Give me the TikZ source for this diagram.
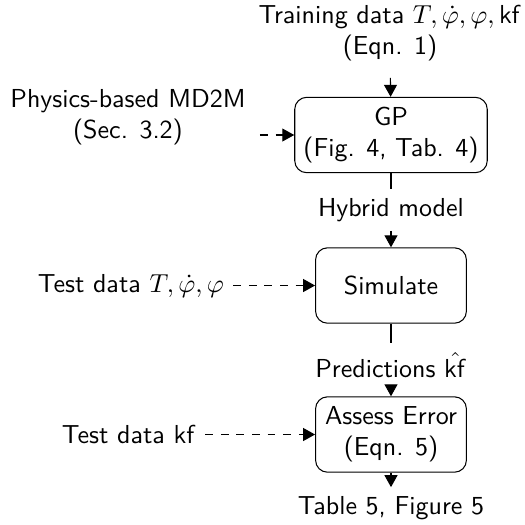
\documentclass[tikz,border=0pt]{standalone}
\usetikzlibrary{arrows.meta}
\begin{document}
\begin{tikzpicture}[x=0.3846pt,y=-0.3846pt, font=\sffamily,
  box/.style={draw, rounded corners=4.6pt, minimum width=58pt, minimum height=29pt, align=center, inner sep=3.33pt},
  lbl/.style={align=center, inner sep=3.33pt},
  arr/.style={-{Triangle[length=4.6pt,width=5pt]}},
  darr/.style={arr, dashed}]
\useasboundingbox (0,0) rectangle (525,524);
\node[lbl] (train) at (390,33) {Training data $T,\dot{\varphi},\varphi,\mathsf{kf}$\\(Eqn. 1)};
\node[box] (gp) at (391,135) {GP\\(Fig. 4, Tab. 4)};
\node[lbl] (hyb) at (391,210) {Hybrid model};
\node[box] (sim) at (391,285.5) {Simulate};
\node[lbl] (pred) at (391,365) {Predictions $\hat{\mathsf{kf}}$};
\node[box] (as) at (391,434.5) {Assess Error\\(Eqn. 5)};
\node[lbl] (tab) at (391,508) {Table 5, Figure 5};
\node[lbl] (phys) at (128,117) {Physics-based MD2M\\(Sec. 3.2)};
\node[lbl] (testT) at (131,285.5) {Test data $T,\dot{\varphi},\varphi$};
\node[lbl] (testkf) at (129,434.5) {Test data $\mathsf{kf}$};
\draw[arr, shorten <=3pt] (train) -- (gp);
\draw (gp) -- (hyb);
\draw[arr] (hyb) -- (sim);
\draw (sim) -- (pred);
\draw[arr] (pred) -- (as);
\draw[arr] (as) -- (tab);
\draw[darr, shorten <=2pt] (phys.east |- gp.west) -- (gp.west);
\draw[darr] (testT) -- (sim);
\draw[darr] (testkf) -- (as);
\end{tikzpicture}
\end{document}
